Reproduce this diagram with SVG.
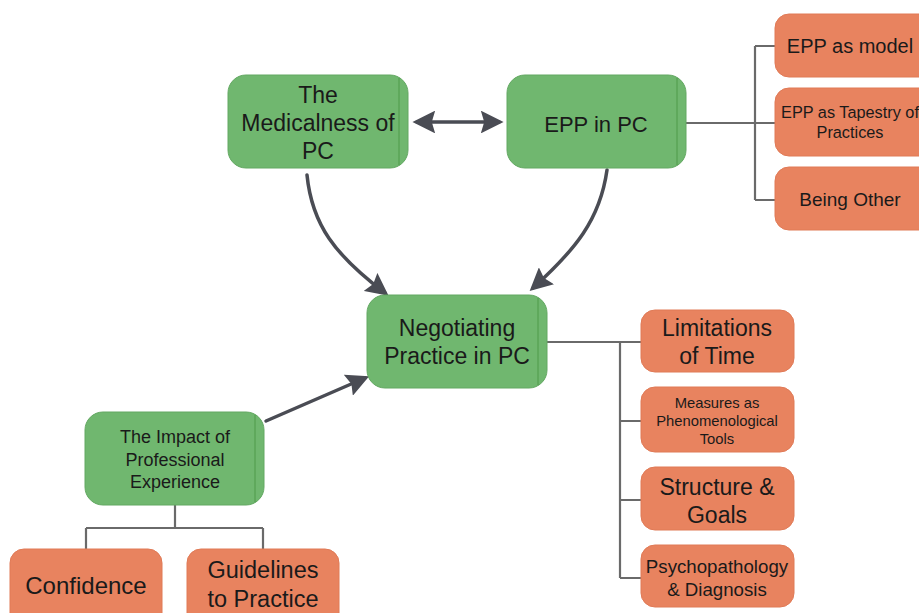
<svg xmlns="http://www.w3.org/2000/svg" width="919" height="613" viewBox="0 0 919 613">
<defs>
<style>
.g{fill:#70b76f;stroke:#63a862;stroke-width:1}
.o{fill:#e8835f;stroke:#e07a56;stroke-width:1}
.sep{stroke:#4e9a4a;stroke-width:1}
text{font-family:"Liberation Sans",Arial,sans-serif;fill:#1a1a1a;text-anchor:middle}
.tree{fill:none;stroke:#6a6a6a;stroke-width:2.2}
.arr{fill:none;stroke:#4a4c54;stroke-width:3.5;stroke-linecap:round}
</style>
<marker id="ah" viewBox="0 0 10 10" refX="8" refY="5" markerWidth="6.5" markerHeight="6.5" orient="auto-start-reverse" markerUnits="strokeWidth">
<path d="M0,0 L10,5 L0,10 L1.5,5 z" fill="#4a4c54"/>
</marker>
</defs>
<rect width="919" height="613" fill="#ffffff"/>
<g id="connectors">
<path class="tree" d="M686,123 H755 M755,46 V200 M755,46 H775 M755,123 H775 M755,200 H775"/>
<path class="tree" d="M547,342 H620 M620,342 V578 M620,342 H641 M620,421 H641 M620,500 H641 M620,578 H641"/>
<path class="tree" d="M175,505 V528 M86,528 H263 M86,528 V549 M263,528 V549"/>
<path class="arr" d="M417,122 H499" marker-start="url(#ah)" marker-end="url(#ah)"/>
<path class="arr" d="M307,175 C312,225 335,255 385,293" marker-end="url(#ah)"/>
<path class="arr" d="M607,170 C600,220 575,250 533,288" marker-end="url(#ah)"/>
<path class="arr" d="M266,421 L365,378" marker-end="url(#ah)"/>
</g>
<g id="n-medicalness">
<rect class="g" x="228" y="75" width="180" height="93" rx="18"/>
<line class="sep" x1="399" y1="78" x2="399" y2="165"/>
<text x="318" y="103" font-size="23">The</text>
<text x="318" y="131" font-size="23">Medicalness of</text>
<text x="318" y="159" font-size="23">PC</text>
</g>
<g id="n-epp">
<rect class="g" x="507" y="75" width="179" height="93" rx="18"/>
<line class="sep" x1="677" y1="78" x2="677" y2="165"/>
<text x="596" y="132" font-size="22">EPP in PC</text>
</g>
<g id="n-negotiating">
<rect class="g" x="367" y="295" width="180" height="93" rx="18"/>
<line class="sep" x1="538" y1="298" x2="538" y2="385"/>
<text x="457" y="336" font-size="23">Negotiating</text>
<text x="457" y="364" font-size="23">Practice in PC</text>
</g>
<g id="n-impact">
<rect class="g" x="85" y="412" width="179" height="93" rx="18"/>
<line class="sep" x1="255" y1="415" x2="255" y2="502"/>
<text x="175" y="443" font-size="18">The Impact of</text>
<text x="175" y="466" font-size="18">Professional</text>
<text x="175" y="488" font-size="18">Experience</text>
</g>
<g id="n-model">
<rect class="o" x="775" y="14" width="160" height="63" rx="14"/>
<text x="850" y="53" font-size="20">EPP as model</text>
</g>
<g id="n-tapestry">
<rect class="o" x="775" y="88" width="160" height="68" rx="14"/>
<text x="850" y="118" font-size="16.3">EPP as Tapestry of</text>
<text x="850" y="138" font-size="16.3">Practices</text>
</g>
<g id="n-other">
<rect class="o" x="775" y="167" width="160" height="63" rx="14"/>
<text x="850" y="206" font-size="19">Being Other</text>
</g>
<g id="n-limitations">
<rect class="o" x="641" y="310" width="153" height="62" rx="14"/>
<text x="717" y="336" font-size="23">Limitations</text>
<text x="717" y="364" font-size="23">of Time</text>
</g>
<g id="n-measures">
<rect class="o" x="641" y="387" width="153" height="65" rx="14"/>
<text x="717" y="408" font-size="14.8">Measures as</text>
<text x="717" y="426" font-size="14.8">Phenomenological</text>
<text x="717" y="444" font-size="14.8">Tools</text>
</g>
<g id="n-structure">
<rect class="o" x="641" y="467" width="153" height="63" rx="14"/>
<text x="717" y="495" font-size="23">Structure &amp;</text>
<text x="717" y="523" font-size="23">Goals</text>
</g>
<g id="n-psycho">
<rect class="o" x="641" y="545" width="153" height="62" rx="14"/>
<text x="717" y="573" font-size="18.7">Psychopathology</text>
<text x="717" y="596" font-size="18.7">&amp; Diagnosis</text>
</g>
<g id="n-confidence">
<rect class="o" x="10" y="549" width="152" height="80" rx="14"/>
<text x="86" y="594" font-size="24">Confidence</text>
</g>
<g id="n-guidelines">
<rect class="o" x="187" y="549" width="152" height="80" rx="14"/>
<text x="263" y="578" font-size="23.5">Guidelines</text>
<text x="263" y="607" font-size="23.5">to Practice</text>
</g>
</svg>
